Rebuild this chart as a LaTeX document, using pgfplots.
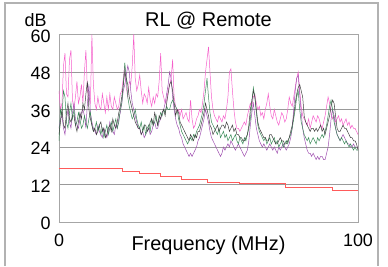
\documentclass[border=0pt]{standalone}
\usepackage{fontspec}
\setmainfont{Liberation Sans}
\usepackage{pgfplots}
\pgfplotsset{compat=1.18}
\usepackage{pgfplotstable}
\definecolor{cpink}{HTML}{F560CB}
\definecolor{cgreen}{HTML}{3C8C5A}
\definecolor{cdark}{HTML}{404040}
\definecolor{cviolet}{HTML}{A050B0}
\definecolor{cred}{HTML}{FF5A5A}
\pgfplotstableread{
f P G K V
0 42 26 28 30
0.5 36 36 32 33
1 38 34 36 34
1.5 50 42 31 30
2 54 40 30 28
2.5 41 32 35 33
3 40 30 38 36
3.5 52 35 33 32
4 55 38 32 30
4.5 39 33 34 35
5 36 36 34 38
5.5 40 31 31 33
6 45 32 29 31
6.5 38 35 32 30
7 40 33 35 33
7.5 44 30 33 35
8 38 31 38 36
8.5 48 34 36 34
9 55 32 41 30
9.5 42 30 45 38
10 40 33 36 44
10.5 38 35 33 35
11 60 31 31 32
11.5 44 29 29 30
12 38 30 30 29
12.5 36 32 28 28
13 40 29 29 31
13.5 37 31 31 29
14 36 28 32 28
14.5 41 30 29 27
15 38 27 30 30
15.5 35 29 27 28
16 40 31 28 27
16.5 36 28 30 29
17 41 30 31 32
17.5 37 32 29 30
18 36 29 33 29
18.5 40 31 31 28
19 38 33 30 31
19.5 36 30 32 30
20 37 32 35 33
20.5 41 36 37 35
21 42 38 40 38
21.5 46 44 44 42
22 50 51 48 44
22.5 43 46 46 47
23 40 40 44 50
23.5 45 37 40 48
24 44 35 38 42
24.5 50 33 36 38
25 60 34 34 36
25.5 46 36 32 34
26 42 33 31 32
26.5 44 31 30 30
27 47 30 30 30
27.5 42 32 28 28
28 38 29 29 29
28.5 41 31 31 27
29 40 28 31 28
29.5 38 30 29 29
30 43 31 30 30
30.5 39 29 32 28
31 37 33 33 29
31.5 40 31 31 31
32 38 32 35 32
32.5 41 34 33 30
33 40 31 31 30
33.5 45 33 34 32
34 54 35 33 33
34.5 42 34 35 35
35 40 36 36 36
35.5 38 35 34 38
36 39 37 38 41
36.5 42 36 41 44
37 44 36 44 48
37.5 46 38 45 46
38 52 39 42 40
38.5 40 38 38 36
39 37 37 34 33
39.5 35 36 36 31
40 36 33 35 30
40.5 34 31 32 28
41 36 29 31 27
41.5 33 28 30 25
42 34 27 29 24
42.5 35 26 28 23
43 33 25 27 22
43.5 32 26 26 21
44 39 27 28 22
44.5 33 26 27 21
45 30 28 26 22
45.5 31 27 28 23
46 33 29 27 24
46.5 34 30 29 26
47 36 31 29 27
47.5 35 33 31 29
48 38 35 33 31
48.5 42 38 35 33
49 48 42 38 36
49.5 52 46 36 34
50 56 40 34 32
50.5 48 35 31 29
51 40 32 30 27
51.5 36 31 28 26
52 34 30 29 25
52.5 33 29 30 24
53 32 28 31 23
53.5 34 30 29 22
54 33 27 30 21
54.5 32 28 31 22
55 34 29 31 24
55.5 33 27 30 23
56 36 28 32 24
56.5 40 26 31 25
57 48 27 29 24
57.5 49 28 30 26
58 42 26 31 25
58.5 36 27 29 24
59 32 28 30 23
59.5 30 26 28 24
60 30 25 28 25
60.5 29 27 27 24
61 30 26 27 23
61.5 31 25 26 22
62 32 27 26 21
62.5 31 26 27 22
63 34 28 28 23
63.5 36 30 31 26
64 38 33 36 31
64.5 37 38 39 35
65 40 43 42 38
65.5 41 40 40 34
66 38 35 36 30
66.5 36 31 32 28
67 37 29 30 26
67.5 34 28 29 25
68 35 27 28 24
68.5 33 26 27 25
69 36 27 27 24
69.5 38 25 26 23
70 41 26 26 24
70.5 37 27 28 25
71 34 25 28 24
71.5 33 26 27 23
72 36 27 26 24
72.5 34 25 25 23
73 32 26 25 22
73.5 31 24 26 24
74 33 25 27 23
74.5 35 26 26 24
75 34 24 26 25
75.5 32 25 25 24
76 33 26 25 23
76.5 36 25 26 24
77 40 27 27 25
77.5 38 28 29 27
78 37 30 31 30
78.5 40 33 34 36
79 43 36 38 42
79.5 46 40 41 46
80 48 42 43 47
80.5 42 36 44 41
81 37 32 42 35
81.5 34 30 40 30
82 33 28 34 27
82.5 32 27 32 25
83 31 26 31 23
83.5 33 27 30 22
84 30 25 29 22
84.5 32 26 30 21
85 34 27 30 22
85.5 33 26 29 21
86 32 25 30 20
86.5 34 27 29 21
87 33 26 30 20
87.5 31 27 31 21
88 30 28 29 21
88.5 32 27 30 20
89 34 29 28 20
89.5 37 31 30 22
90 40 34 32 24
90.5 38 37 34 28
91 35 39 37 33
91.5 33 36 39 36
92 34 32 38 34
92.5 32 30 34 30
93 33 28 30 28
93.5 34 27 29 27
94 32 26 29 26
94.5 33 27 30 27
95 31 26 31 28
95.5 32 25 30 27
96 33 26 30 26
96.5 31 25 29 25
97 32 24 28 25
97.5 30 25 27 24
98 31 24 27 24
98.5 30 23 26 25
99 30 24 26 24
99.5 29 23 25 24
100 28 23 23 24
}\datatable
\begin{document}
\begin{tikzpicture}
\begin{axis}[
  at={(0,0)}, anchor=south west,
  scale only axis, width=299bp, height=187.5bp,
  xmin=0, xmax=100, ymin=0, ymax=60,
  xtick={0,100}, ytick={0,12,24,36,48,60},
  ymajorgrids, grid style={draw=gray!80, line width=0.8pt},
  axis line style={draw=gray!70, line width=0.8pt},
  major tick length=0pt,
  tick label style={font=\fontsize{18}{18}\selectfont},
  /pgf/number format/assume math mode=true,
  yticklabel style={anchor=east, xshift=-5bp, yshift=-1.5bp},
  xticklabel style={anchor=base, yshift=-24bp},
  xlabel={Frequency (MHz)},
  xlabel style={at={(axis description cs:0.5,0)}, anchor=base, yshift=-28bp, font=\fontsize{20}{20}\selectfont},
  clip mode=individual,
]
\addplot[cpink, line width=0.5pt] table[x=f, y=P] {\datatable};
\addplot[cviolet, line width=0.5pt] table[x=f, y=V] {\datatable};
\addplot[cgreen, line width=0.5pt] table[x=f, y=G] {\datatable};
\addplot[cdark, line width=0.5pt] table[x=f, y=K] {\datatable};
\addplot[cred, line width=1pt] coordinates {
(0,17) (21.4,17) (21.4,16.2) (27,16.2) (27,15.4) (33.8,15.4) (33.8,14.5)
(41,14.5) (41,13.6) (49.5,13.6) (49.5,12.7) (60.5,12.7) (60.5,12.2)
(75.6,12.2) (75.6,11.1) (91.6,11.1) (91.6,10.1) (100,10.1)};
\node[anchor=base, font=\fontsize{20}{20}\selectfont] at (axis description cs:0.5,1) [yshift=8.5bp] {RL @ Remote};
\node[anchor=base east, font=\fontsize{18}{18}\selectfont] at (axis description cs:0,1) [xshift=-9bp, yshift=8.5bp] {dB};
\end{axis}
\draw[gray!60, line width=1.2pt] (-54bp,-44bp) -- (-54bp,219bp) -- (319bp,219bp) -- (319bp,-44bp);
\path[use as bounding box] (-59bp,-44bp) rectangle (329bp,222bp);
\end{tikzpicture}
\end{document}
